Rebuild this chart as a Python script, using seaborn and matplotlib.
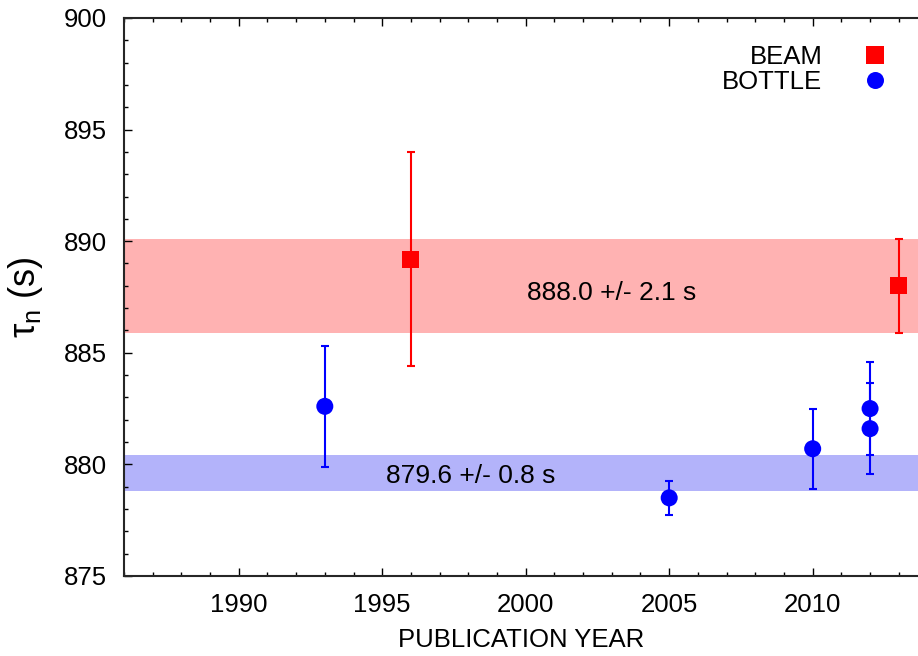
import pandas as pd
import matplotlib
matplotlib.use("Agg")
import matplotlib.pyplot as plt
import seaborn as sns
from matplotlib.ticker import MultipleLocator

# valeurs
beam_year = [1996, 2013]
beam_tau = [889.2, 888.0]
beam_err = [4.8, 2.1]

bottle_year = [1993, 2005, 2010, 2012, 2012]
bottle_tau = [882.6, 878.5, 880.7, 882.5, 881.6]
bottle_err = [2.7, 0.75, 1.8, 2.1, 2.05]

beam_avg, beam_avg_err = 888.0, 2.1
bottle_avg, bottle_avg_err = 879.6, 0.8

data = pd.DataFrame({
    "year": beam_year + bottle_year,
    "tau": beam_tau + bottle_tau,
    "method": ["BEAM"] * len(beam_year) + ["BOTTLE"] * len(bottle_year),
})

sns.set_style("ticks")
plt.rcParams["font.family"] = ["Liberation Sans", "DejaVu Sans"]
plt.rcParams["text.color"] = "black"
plt.rcParams["axes.labelcolor"] = "black"
plt.rcParams["xtick.color"] = "black"
plt.rcParams["ytick.color"] = "black"
plt.rcParams["xtick.direction"] = "in"
plt.rcParams["ytick.direction"] = "in"

fig = plt.figure(figsize=(9.18, 6.56), dpi=100)
ax = fig.add_axes([0.135, 0.122, 0.865, 0.8506])

# bandes des moyennes
ax.axhspan(beam_avg - beam_avg_err, beam_avg + beam_avg_err, color="#FFB2B2", lw=0, zorder=0)
ax.axhspan(bottle_avg - bottle_avg_err, bottle_avg + bottle_avg_err, color="#B3B3FA", lw=0, zorder=0)

ax.errorbar(beam_year, beam_tau, yerr=beam_err, fmt="none", ecolor="red", elinewidth=1.5, capsize=3, capthick=1.5, zorder=2)
ax.errorbar(bottle_year, bottle_tau, yerr=bottle_err, fmt="none", ecolor="blue", elinewidth=1.5, capsize=3, capthick=1.5, zorder=2)

sns.scatterplot(data=data, x="year", y="tau", hue="method", style="method",
                palette={"BEAM": "red", "BOTTLE": "blue"},
                markers={"BEAM": "s", "BOTTLE": "o"}, s=150, linewidth=0, ax=ax, zorder=3)

ax.text(2003.0, 887.7, "888.0 +/- 2.1 s", fontsize=19, ha="center", va="center")
ax.text(1998.1, 879.5, "879.6 +/- 0.8 s", fontsize=19, ha="center", va="center")

ax.set_xlim(1986, 2013.67)
ax.set_ylim(875, 900)
ax.xaxis.set_major_locator(MultipleLocator(5))
ax.xaxis.set_minor_locator(MultipleLocator(1))
ax.yaxis.set_major_locator(MultipleLocator(5))
ax.yaxis.set_minor_locator(MultipleLocator(1))
ax.tick_params(which="major", length=6, width=1, labelsize=18.5, top=True, pad=12)
ax.tick_params(which="minor", length=3, width=1, top=True)
ax.spines["right"].set_visible(False)
for s in ["left", "bottom", "top"]:
    ax.spines[s].set_linewidth(1.5)

ax.set_xlabel("PUBLICATION YEAR", fontsize=18.5, labelpad=8)
ax.set_ylabel("τ$_\\mathregular{n}$ (s)", fontsize=26, labelpad=14)

handles, labels = ax.get_legend_handles_labels()
leg = ax.legend(handles, labels, loc="upper right", frameon=False, markerfirst=False,
                fontsize=18.5, handletextpad=1.3, labelspacing=0.02, handlelength=1.5,
                bbox_to_anchor=(0.983, 0.97), borderaxespad=0)
for t in leg.get_texts():
    t.set_ha("right")

fig.savefig("out.png", dpi=100)
